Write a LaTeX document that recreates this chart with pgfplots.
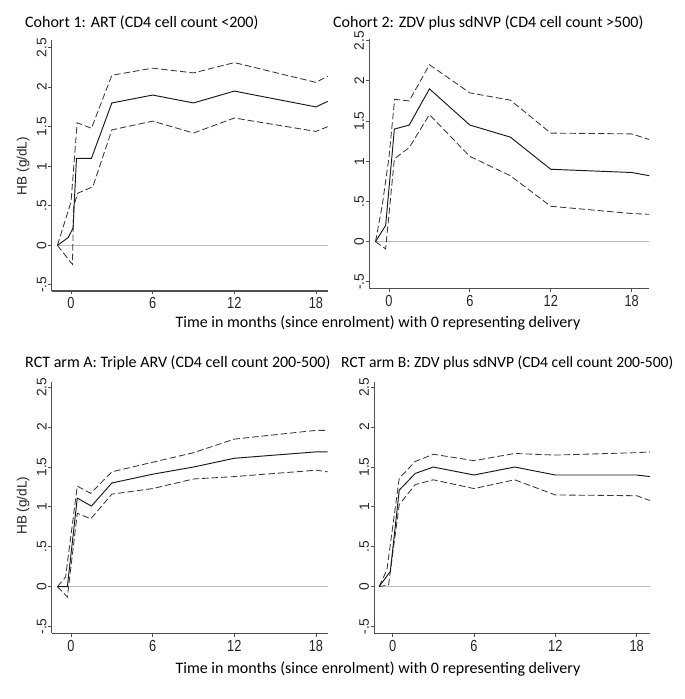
\documentclass[border=0pt]{standalone}
\usepackage{fontspec}
\setmainfont{Carlito}
\newfontfamily\arialf{Liberation Sans}
\newfontfamily\arialn[FakeStretch=0.8]{Liberation Sans}
\usepackage{pgfplots}
\pgfplotsset{compat=1.18}
\definecolor{axgray}{HTML}{505050}
\definecolor{cigray}{HTML}{383838}
\definecolor{zerogray}{HTML}{BBBBBB}
\pgfplotsset{
  hbpanel/.style={
    scale only axis, anchor=south west, clip=false,
    axis lines=left, axis line style={-, draw=axgray, line width=1.1pt},
    tick align=outside, major tick length=3.5pt,
    tick style={draw=axgray, line width=0.9pt},
    /pgf/number format/assume math mode=true,
    xtick={0,6,12,18}, xticklabels={0,6,12,18},
    ytick={-0.5,0,0.5,1,1.5,2,2.5},
    yticklabels={-.5,0,.5,1,1.5,2,2.5},
    xticklabel style={font=\arialn\fontsize{16}{16}\selectfont, text=black!85, inner sep=1pt, yshift=-2pt},
    yticklabel style={rotate=90, anchor=south, font=\arialf\fontsize{13.8}{14}\selectfont, text=black!85, inner sep=1.5pt},
  },
  meanline/.style={black!90, line width=0.95pt},
  ciline/.style={cigray, line width=0.85pt, dash pattern=on 6.5pt off 3pt},
  zeroline/.style={zerogray, line width=0.8pt},
}
\begin{document}
\begin{tikzpicture}
\path[use as bounding box] (0,0) rectangle (685pt,699pt);

% Panel 1
\begin{axis}[hbpanel, at={(51.7pt,408pt)}, width=276pt, height=251pt,
  xmin=-1.42, xmax=18.86, ymin=-0.577, ymax=2.596]
\addplot[zeroline] coordinates {(-1,0) (18.86,0)};
\addplot[ciline] coordinates {(-1,0) (0.0,0.55) (0.45,1.55) (1.5,1.48) (3,2.15) (6,2.24) (9,2.18) (12,2.31) (18,2.06) (18.86,2.14)};
\addplot[ciline] coordinates {(-1,0) (0.1,-0.24) (0.2,0.5) (0.5,0.66) (1.6,0.74) (3,1.46) (6,1.57) (9,1.42) (12,1.61) (18,1.44) (18.86,1.5)};
\addplot[meanline] coordinates {(-1,0) (-0.2,0.1) (0.15,0.22) (0.4,1.1) (1.5,1.1) (3,1.8) (6,1.9) (9,1.8) (12,1.95) (18,1.75) (18.86,1.82)};
\end{axis}

% Panel 2
\begin{axis}[hbpanel, at={(369.3pt,410.7pt)}, width=280pt, height=249.3pt,
  xmin=-1.46, xmax=19.31, ymin=-0.58, ymax=2.52]
\addplot[zeroline] coordinates {(-1,0) (19.31,0)};
\addplot[ciline] coordinates {(-1,0) (-0.5,0.45) (0,1.05) (0.42,1.77) (1.5,1.75) (3,2.2) (6,1.85) (9,1.76) (12,1.35) (18,1.34) (19.31,1.27)};
\addplot[ciline] coordinates {(-1,0) (-0.25,-0.09) (0.4,1.03) (1.5,1.17) (3,1.58) (6,1.06) (9,0.82) (12,0.44) (18,0.35) (19.31,0.34)};
\addplot[meanline] coordinates {(-1,0) (-0.25,0.2) (0.4,1.4) (1.5,1.45) (3,1.9) (6,1.45) (9,1.3) (12,0.9) (18,0.86) (19.31,0.82)};
\end{axis}

% Panel 3
\begin{axis}[hbpanel, at={(51.7pt,65.7pt)}, width=276pt, height=251.6pt,
  xmin=-1.42, xmax=18.86, ymin=-0.585, ymax=2.57]
\addplot[zeroline] coordinates {(-1,0) (18.86,0)};
\addplot[ciline] coordinates {(-1,0) (-0.4,0.12) (0.46,1.26) (1.45,1.17) (3,1.44) (6,1.56) (9,1.68) (12,1.85) (18,1.96) (18.86,1.96)};
\addplot[ciline] coordinates {(-1,0) (-0.27,-0.13) (0.46,0.92) (1.45,0.85) (3,1.16) (6,1.23) (9,1.35) (12,1.38) (18,1.46) (18.86,1.44)};
\addplot[meanline] coordinates {(-1,0) (-0.27,0) (0.46,1.11) (1.5,1.01) (3,1.3) (6,1.41) (9,1.5) (12,1.61) (18,1.69) (18.86,1.69)};
\end{axis}

% Panel 4
\begin{axis}[hbpanel, at={(374.3pt,65.7pt)}, width=275.7pt, height=251.6pt,
  xmin=-1.35, xmax=18.98, ymin=-0.585, ymax=2.57]
\addplot[zeroline] coordinates {(-1,0) (18.98,0)};
\addplot[ciline] coordinates {(-1,0) (-0.42,0.21) (0.49,1.36) (1.67,1.57) (3,1.66) (6,1.58) (9,1.67) (12,1.65) (18,1.68) (18.98,1.69)};
\addplot[ciline] coordinates {(-1,0) (-0.3,0.02) (0.49,1.03) (1.67,1.28) (3,1.34) (6,1.23) (9,1.34) (12,1.15) (18,1.14) (18.98,1.08)};
\addplot[meanline] coordinates {(-1,0) (-0.17,0.19) (0.49,1.21) (1.67,1.42) (3,1.5) (6,1.4) (9,1.5) (12,1.4) (18,1.4) (18.98,1.38)};
\end{axis}

% Titles and labels
\begin{scope}[every node/.style={inner sep=0pt, text=black}]
\node[anchor=west, font=\fontsize{16}{19}\selectfont] at (25pt,676pt) {Cohort 1: ART (CD4 cell count <200)};
\node[anchor=west, font=\fontsize{16}{19}\selectfont] at (333pt,676pt) {Cohort 2: ZDV plus sdNVP (CD4 cell count >500)};
\node[anchor=west, font=\fontsize{16}{19}\selectfont] at (25pt,336pt) {RCT arm A: Triple ARV (CD4 cell count 200-500)};
\node[anchor=west, font=\fontsize{15.6}{19}\selectfont] at (341pt,336pt) {RCT arm B: ZDV plus sdNVP (CD4 cell count 200-500)};
\node[font=\fontsize{16}{19}\selectfont] at (378pt,376.3pt) {Time in months (since enrolment) with 0 representing delivery};
\node[font=\fontsize{16}{19}\selectfont] at (378pt,30pt) {Time in months (since enrolment) with 0 representing delivery};
\node[rotate=90, font=\arialf\fontsize{13.6}{15}\selectfont, text=black!85] at (23pt,533pt) {HB (g/dL)};
\node[rotate=90, font=\arialf\fontsize{13.6}{15}\selectfont, text=black!85] at (23pt,193.3pt) {HB (g/dL)};
\end{scope}
\end{tikzpicture}
\end{document}
